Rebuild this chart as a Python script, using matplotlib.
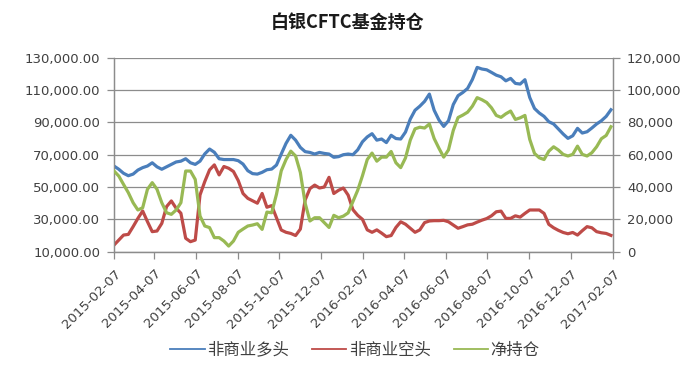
import matplotlib
matplotlib.use('Agg')
import matplotlib.pyplot as plt
import matplotlib.dates as mdates
import pandas as pd
from matplotlib.ticker import FuncFormatter, FixedLocator
from matplotlib.lines import Line2D

plt.rcParams['font.family'] = ['DejaVu Sans', 'Noto Sans CJK SC']

# ---------------- data ----------------
dates = pd.date_range('2015-02-07', periods=105, freq='7D')

long_pos = [63000, 61000, 58500, 57000, 58000, 60500, 62000, 63000, 65000, 62500,
            61000, 62500, 64000, 65500, 66000, 67500, 65000, 64000, 66000, 70500,
            73500, 71500, 67500, 67000, 67000, 67000, 66300, 64200, 60100, 58300,
            58000, 59100, 60700, 61100, 63600, 70400, 77000, 82000, 79000, 74500,
            71900, 71400, 70400, 71400, 70800, 70400, 68400, 68800, 70000, 70400,
            70000, 73000, 78000, 81000, 83000, 79000, 79700, 77500, 82000, 80000,
            79700, 84000, 92000, 97500, 100000, 103000, 107500, 97500, 91500, 87500,
            91000, 101000, 106500, 108500, 111000, 116500, 124000, 123000, 122500, 120900,
            119200, 118200, 115700, 117200, 114100, 113700, 116400, 105400, 98600, 95800,
            93700, 90400, 89000, 85900, 82800, 80100, 81700, 86300, 83400, 84200,
            86500, 89000, 91000, 93700, 97800]

short_pos = [14100, 17200, 20300, 20700, 25500, 30600, 35200, 28600, 22400, 22800,
             27500, 37900, 41400, 36900, 33800, 18300, 16200, 17200, 45100, 53400,
             60600, 63700, 57500, 62700, 61600, 59600, 54000, 46000, 43000, 41500,
             40000, 46000, 37500, 38500, 31000, 23400, 22000, 21300, 20000, 24000,
             42000, 49000, 51200, 49400, 50000, 56000, 46000, 48000, 49400, 45000,
             36000, 32500, 30000, 23500, 22000, 23500, 21500, 19300, 20000, 25000,
             28500, 27000, 24500, 22000, 23500, 28000, 29000, 29200, 29200, 29400,
             28500, 26500, 24500, 25500, 26600, 27000, 28300, 29500, 30500, 32200,
             34700, 35100, 30600, 30600, 32200, 31400, 33700, 35800, 35800, 35800,
             33700, 26900, 24800, 23200, 21900, 21100, 21900, 20300, 23000, 25500,
             24800, 22400, 21700, 21300, 20100]

net_pos = [49900, 46800, 41600, 36500, 30300, 25800, 27200, 38600, 42700, 38600,
           30300, 24100, 23100, 25800, 30300, 49900, 49900, 44700, 22100, 15900,
           14900, 8700, 8700, 6600, 3500, 6600, 12000, 14000, 15900, 16500,
           17300, 13800, 24500, 24100, 35500, 50000, 57000, 62200, 59200, 49000,
           30000, 19000, 21000, 21000, 18000, 15000, 22500, 21000, 22000, 24000,
           31000, 38000, 47000, 57000, 61000, 56000, 58500, 58500, 62000, 55000,
           52000, 58000, 69000, 76000, 77000, 76500, 79000, 70000, 64000, 58500,
           63000, 75000, 83000, 84500, 86300, 90000, 95300, 94000, 92300, 89000,
           84300, 83100, 85300, 87000, 81800, 82800, 84300, 69500, 60800, 58100,
           57000, 62200, 64900, 62900, 60200, 59200, 60200, 65300, 60200, 59200,
           61200, 64900, 69900, 71900, 77300]

series_names = ['非商业多头', '非商业空头', '净持仓']
tick_labels = ['2015-02-07', '2015-04-07', '2015-06-07', '2015-08-07', '2015-10-07',
               '2015-12-07', '2016-02-07', '2016-04-07', '2016-06-07', '2016-08-07',
               '2016-10-07', '2016-12-07', '2017-02-07']
left_ticks = [10000, 30000, 50000, 70000, 90000, 110000, 130000]
right_ticks = [0, 20000, 40000, 60000, 80000, 100000, 120000]
title = '白银CFTC基金持仓'

# ---------------- style ----------------
c_blue = '#4A7EBB'
c_red = '#BE4B48'
c_green = '#98B954'
grid_c = '#8C8C8C'
txt_c = '#404040'

W, H = 695, 367
fig = plt.figure(figsize=(W / 100, H / 100), dpi=100)
L, R, T, B = 114, 613, 57.7, 251.7
ax = fig.add_axes([L / W, 1 - B / H, (R - L) / W, (B - T) / H])
ax2 = ax.twinx()

tick_dates = pd.to_datetime(tick_labels)

ax.plot(dates, long_pos, color=c_blue, lw=2.3, solid_joinstyle='round', zorder=3)
ax.plot(dates, short_pos, color=c_red, lw=2.3, solid_joinstyle='round', zorder=3)
ax2.plot(dates, net_pos, color=c_green, lw=2.3, solid_joinstyle='round', zorder=3)

ax.set_xlim(tick_dates[0], tick_dates[-1])
ax.set_ylim(left_ticks[0], left_ticks[-1])
ax2.set_ylim(right_ticks[0], right_ticks[-1])

ax.yaxis.set_major_locator(FixedLocator(left_ticks))
ax2.yaxis.set_major_locator(FixedLocator(right_ticks))
ax.yaxis.set_major_formatter(FuncFormatter(lambda v, p: f'{v:,.2f}'))
ax2.yaxis.set_major_formatter(FuncFormatter(lambda v, p: f'{v:,.0f}'))

ax.set_xticks(mdates.date2num(tick_dates))
ax.set_xticklabels(tick_labels, rotation=45, ha='right', va='top',
                   rotation_mode='anchor')

ax.grid(axis='y', color=grid_c, lw=0.9, zorder=0)
ax.set_axisbelow(True)

for a in (ax, ax2):
    for s in a.spines.values():
        s.set_color(grid_c)
        s.set_linewidth(0.9)
    a.spines['top'].set_visible(False)
    a.tick_params(colors=grid_c, labelcolor=txt_c, width=0.9)

ax.tick_params(axis='y', length=5, labelsize=9.5, pad=5)
ax2.tick_params(axis='y', length=5, labelsize=9.5, pad=5)
ax.tick_params(axis='x', length=5, labelsize=9.5, pad=6)

fig.text(0.5, 1 - 22 / H, title, ha='center', va='center', fontsize=13,
         fontweight='bold', color='#1a1a1a', family=['Noto Sans CJK SC'])

handles = [Line2D([], [], color=c, lw=1.3) for c in (c_blue, c_red, c_green)]
fig.legend(handles, series_names, loc='center', bbox_to_anchor=(355 / W, 1 - 350 / H),
           ncol=3, frameon=False, handlelength=2.1, handletextpad=0.15,
           columnspacing=1.4, prop={'family': ['Noto Sans CJK SC'], 'size': 11.8},
           labelcolor=txt_c)

fig.savefig('out.png', dpi=100)
